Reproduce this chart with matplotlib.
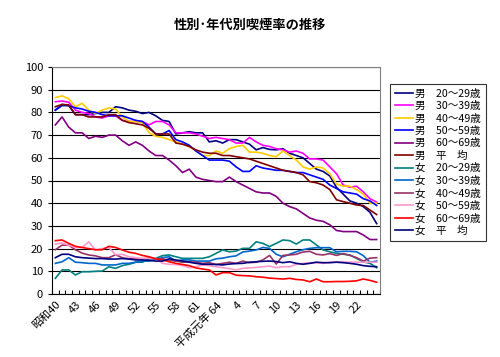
import numpy as np
import matplotlib
matplotlib.use('Agg')
import matplotlib.pyplot as plt

plt.rcParams['font.family'] = ['Noto Sans CJK JP', 'DejaVu Sans']

# 昭和40年(1965) ~ 平成25年(2013)
years = list(range(1965, 2014))

tick_labels = ['昭和40', '43', '46', '49', '52', '55', '58', '61', '平成元年 64',
               '4', '7', '10', '13', '16', '19', '22']

m20 = [81, 83, 83, 79, 79, 79, 79.5, 80, 80, 82.5, 82, 81, 80.5, 79.5, 80, 78.5, 76.5,
       76, 70.5, 71, 71.5, 71, 71, 67, 67.5, 66.5, 68, 68, 67, 66, 63.5, 64.5, 63.7,
       63.5, 64, 62, 61, 60, 57.5, 55, 54, 52, 47, 44, 41, 40, 38.5, 36, 31]
m30 = [84.7, 85, 84.5, 81, 80, 79.5, 78, 77.5, 78.5, 78.5, 76.5, 76, 76, 76, 74.5, 76,
       76, 74.5, 71, 71, 71, 70.5, 69.5, 68.5, 69, 68.5, 68, 66.5, 66.5, 69, 67, 65.5,
       65, 64, 63.5, 62.5, 63, 62, 59.5, 59.5, 59, 56, 53, 48, 47, 47.5, 45, 42, 40.5]
m40 = [86.5, 87.3, 86, 82.5, 84, 81, 79.5, 81, 82, 81.5, 78, 76, 76, 75.5, 71, 69.5,
       69, 68, 67, 66, 65, 63, 61, 61, 63, 62, 64, 65, 65.5, 62.5, 62.5, 62, 61, 60.5,
       63, 61, 59, 56, 55, 56, 55.5, 53, 48.5, 47.5, 47.5, 46, 44, 40, 40]
m50 = [81, 83.5, 83, 82, 81.5, 80.5, 80, 79, 78.5, 78.5, 78.5, 77.5, 76.5, 76, 73.5,
       70.5, 70.5, 72, 68, 67, 65.5, 63, 61, 59, 59, 59, 58.5, 56, 54, 54, 56.5, 55.5,
       55, 54.5, 54.5, 54, 53.5, 53.5, 52.5, 51.5, 50.5, 48, 46.5, 45, 44.5, 44, 42, 41, 39]
m60 = [74.5, 78, 73.5, 71, 71, 68.5, 69.5, 69, 70, 70, 67.5, 65.5, 67, 65.5, 63, 61, 61,
       59, 56.5, 53.5, 55, 51.5, 50.5, 50, 49.5, 49.5, 51.5, 49.5, 48, 46.5, 45, 44.5,
       44.5, 43, 40, 38.5, 37.5, 35.5, 33.5, 32.5, 32, 30.5, 28, 27.5, 27.5, 27.5, 26, 24, 24]
m_avg = [82.5, 83.5, 83.3, 79, 79, 78, 78, 78, 79, 79, 76.5, 75.5, 75, 74.5, 73, 70.5,
         70.5, 70.5, 66.5, 66, 65, 63.5, 62.5, 62, 62, 61, 61, 60.5, 60, 59.5, 58.5, 57.5,
         56.5, 55.5, 54.5, 54, 53.5, 52.5, 49.5, 49, 48, 46, 41.5, 40.7, 40, 39.2, 39, 37, 35]
f20 = [6.9, 10.6, 10.6, 8.4, 9.8, 9.8, 10, 10.1, 12, 11.3, 12.5, 13.1, 14, 14, 15.4, 15.7,
       16.9, 17.2, 16.4, 15.7, 15.7, 15.7, 15.7, 16.4, 17.9, 19.4, 18.6, 18.9, 20.1, 20.1,
       23, 22.3, 20.9, 22.3, 23.8, 23.5, 22, 23.8, 23.8, 21.6, 19.4, 18.6, 17.9, 17.5, 17.2,
       15.7, 14.2, 13.5, 11.6]
f30 = [13.5, 14.2, 16, 14, 13.8, 13.5, 13.5, 12.8, 12.8, 12.8, 13.5, 13.5, 14, 14.5, 14.5,
       15.3, 16, 16.4, 14.5, 15, 15, 14.5, 14.5, 14.5, 15.5, 15.8, 16.4, 16.8, 18.5, 18.9,
       19.4, 20.5, 20.1, 17.5, 16.4, 17.5, 18.6, 19.5, 20.1, 20.4, 20.4, 20.4, 18.6, 18.8,
       18.8, 18.6, 16.9, 14, 14.5]
f40 = [19.5, 21.5, 21.5, 19.5, 18, 17.2, 16.8, 16, 16, 17.3, 16, 15.5, 15.5, 15.5, 15.8,
       15.5, 15.5, 14.8, 14.5, 14, 14.2, 14, 13.5, 13.8, 13, 13.5, 14, 13.5, 14.5, 13.8, 14,
       15, 17, 13.2, 17, 17.2, 17.5, 18.5, 18.8, 17.5, 17.2, 17.8, 17, 17.8, 17, 16, 14.5,
       15.8, 16]
f50 = [22, 22.5, 21.5, 20.5, 20.5, 23, 19.4, 20, 20.4, 17.3, 17.5, 16.4, 16, 15.7, 15.7,
       15.7, 13.5, 13.1, 13, 12.5, 11.6, 12, 12.8, 12.5, 12, 11.6, 11.2, 10.6, 11.3, 11.5,
       11.7, 12, 12.3, 11.6, 12, 12, 13.1, 13.5, 13.8, 13.8, 13.5, 14, 14.2, 14.2, 14, 14,
       14, 14, 14]
f60 = [23.5, 23.8, 22.3, 21, 20.5, 20, 19.5, 19.5, 21, 20.5, 19.4, 18.4, 17.9, 17, 16.4,
       15.5, 15, 14.2, 13.5, 13, 12.5, 11.5, 11, 10.6, 8.4, 9.4, 9.4, 8.3, 8.1, 8, 7.6, 7.4,
       7, 6.8, 6.6, 6.9, 6.4, 6.2, 5.4, 6.6, 5.4, 5.4, 5.5, 5.5, 5.6, 5.8, 6.6, 6, 5.2]
f_avg = [16, 17.5, 17.5, 16.4, 16, 15.8, 15.6, 15.6, 15.4, 15.4, 15.6, 15.4, 15, 15, 14.8,
         14.5, 14.5, 15.5, 15, 14.5, 14, 13.5, 13.1, 13.1, 13, 12.8, 13.2, 13.4, 13.5, 14,
         14.2, 14.4, 14.5, 14.3, 13.8, 14.2, 13.5, 13.1, 13.5, 14, 13.8, 13.8, 14, 13.8,
         13.5, 13.1, 12.5, 12.2, 12]

series = [
    ('男　20～29歳', m20, '#000080'),
    ('男　30～39歳', m30, '#FF00FF'),
    ('男　40～49歳', m40, '#FFCC00'),
    ('男　50～59歳', m50, '#0000FF'),
    ('男　60～69歳', m60, '#800080'),
    ('男　平　均', m_avg, '#800000'),
    ('女　20～29歳', f20, '#008080'),
    ('女　30～39歳', f30, '#0066CC'),
    ('女　40～49歳', f40, '#993366'),
    ('女　50～59歳', f50, '#FF99CC'),
    ('女　60～69歳', f60, '#FF0000'),
    ('女　平　均', f_avg, '#000080'),
]

fig = plt.figure(figsize=(5, 3.57), dpi=100)
ax = fig.add_axes([52 / 500, 1 - 294 / 357, 328 / 500, 227 / 357])

x = np.arange(len(years))
for name, vals, col in series:
    ax.plot(x, vals, color=col, lw=1.2, label=name)

ax.set_xlim(-0.5, len(years) - 0.5)
ax.set_ylim(0, 100)
ax.set_yticks(range(0, 101, 10))
ax.yaxis.grid(True, color='black', lw=0.8)
ax.set_axisbelow(True)
ax.tick_params(axis='y', labelsize=8, length=3, width=0.8)

ax.set_xticks(x[:len(tick_labels) * 3:3])
ax.set_xticklabels(tick_labels, rotation=45, ha='right', rotation_mode='anchor', fontsize=8)
ax.tick_params(axis='x', which='major', length=0, pad=4)
ax.set_xticks(np.arange(-0.5, len(years), 1), minor=True)
ax.tick_params(axis='x', which='minor', direction='in', length=3, width=0.8)

for s in ['top', 'right']:
    ax.spines[s].set_color('#808080')
for s in ['left', 'bottom']:
    ax.spines[s].set_color('black')

fig.text(0.5, 1 - 25 / 357, '性別･年代別喫煙率の推移', fontsize=9.5, fontweight='bold',
         ha='center', va='center')

leg = fig.legend(loc='upper left', bbox_to_anchor=(390 / 500, 1 - 84 / 357),
                 fontsize=7.6, frameon=True, fancybox=False, edgecolor='black',
                 handlelength=1.7, handletextpad=0.25, labelspacing=0.22,
                 borderpad=0.45, borderaxespad=0)
leg.get_frame().set_linewidth(0.8)

fig.savefig('out.png', dpi=100)
